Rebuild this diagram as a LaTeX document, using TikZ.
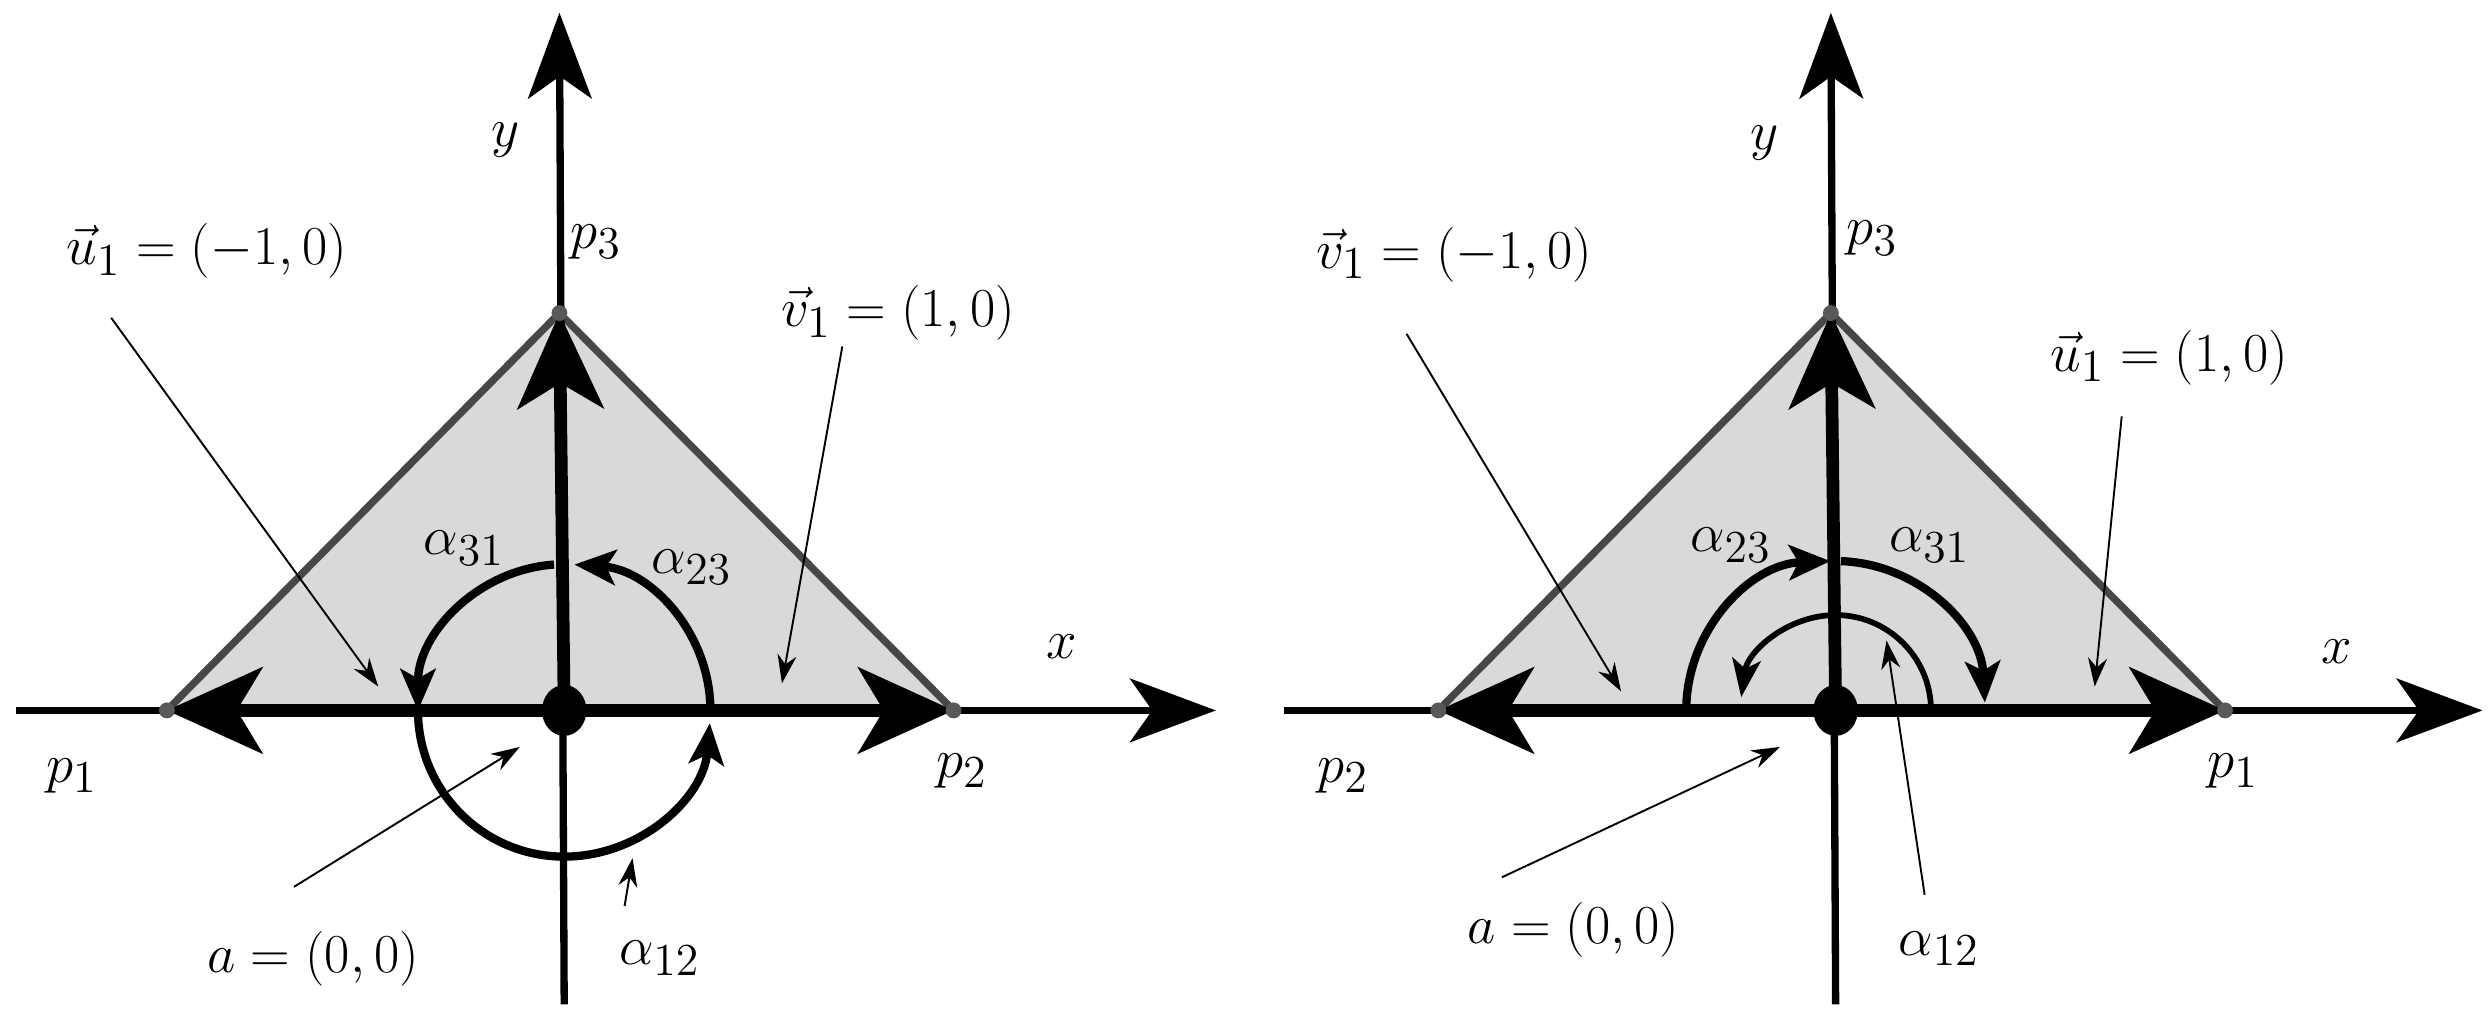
\documentclass[tikz,border=0pt]{standalone}
\usetikzlibrary{arrows.meta}
\begin{document}
\begin{tikzpicture}[x=0.5pt,y=0.5pt,font=\fontsize{19}{22}\selectfont,
  axisline/.style={line width=2.3pt,-{Stealth[length=27pt,width=20pt,inset=7pt]}},
  vecline/.style={line width=4pt,-{Stealth[length=30pt,width=27pt,inset=8pt]}},
  arcline/.style={line width=2.6pt,-{Stealth[length=13pt,width=11pt,inset=3pt]}},
  thinarc/.style={line width=1.8pt,-{Stealth[length=12pt,width=9pt,inset=3pt]}},
  ptr/.style={line width=0.6pt,-{Stealth[length=9pt,width=6pt]}},
  tri/.style={fill=black!15,draw=black!72,line width=2.3pt,line join=round},
  lbl/.style={inner sep=0pt}]
\useasboundingbox (0,0) rectangle (1568,644);
% ---------- left panel ----------
\begin{scope}[shift={(355,197)}]
  \coordinate (O) at (0,0);
  \coordinate (P1) at (-250,0); \coordinate (P2) at (245,0); \coordinate (P3) at (-3,250);
  \coordinate (XL) at (-345,0); \coordinate (XR) at (410,0);
  \coordinate (YB) at (0,-185); \coordinate (YT) at (-3,439);
  \filldraw[tri] (P1) -- (P2) -- (P3) -- cycle;
  \draw[axisline] (XL) -- (XR);
  \draw[axisline] (YB) -- (YT);
  \draw[vecline] (O) -- (P1);
  \draw[vecline] (O) -- (P2);
  \draw[vecline] (O) -- (P3);
  \foreach \p in {P1,P2,P3} \fill[black!65] (\p) circle (5);
  \draw[arcline] (O) ++(0:92) arc[start angle=0,end angle=86,radius=92];
  \draw[arcline] (O) ++(94:92) arc[start angle=94,end angle=180,radius=92];
  \draw[arcline] (O) ++(180:92) arc[start angle=180,end angle=355,radius=92];
  \fill (O) ellipse (14 and 16);
  \node[lbl] (ly) at (-37,359) {$y$};
  \node[lbl] (lx) at (313,40) {$x$};
  \node[lbl] (lp3) at (20,295) {$p_3$};
  \node[lbl] (lp1) at (-310,-41) {$p_1$};
  \node[lbl] (lp2) at (250,-38) {$p_2$};
  \node[lbl] (lu) at (-225,289) {$\vec{u}_1=(-1,0)$};
  \node[lbl] (lv) at (210,250) {$\vec{v}_1=(1,0)$};
  \node[lbl] (la) at (-158,-156) {$a=(0,0)$};
  \node[lbl] (l12) at (60,-156) {$\alpha_{12}$};
  \node[lbl] (l31) at (-63,102) {$\alpha_{31}$};
  \node[lbl] (l23) at (80,90) {$\alpha_{23}$};
  \coordinate (u0) at (-285,247); \coordinate (u1) at (-117,15);
  \coordinate (v0) at (175,229); \coordinate (v1) at (137,17);
  \coordinate (a0) at (-170,-111); \coordinate (a1) at (-28,-23);
  \coordinate (b0) at (38,-123); \coordinate (b1) at (43,-93);
  \draw[ptr] (u0) -- (u1);
  \draw[ptr] (v0) -- (v1);
  \draw[ptr] (a0) -- (a1);
  \draw[ptr] (b0) -- (b1);
\end{scope}
% ---------- right panel ----------
\begin{scope}[shift={(1155,197)}]
  \coordinate (Q) at (0,0);
  \coordinate (Q2) at (-250,0); \coordinate (Q1) at (245,0); \coordinate (Q3) at (-3,250);
  \coordinate (ZL) at (-347,0); \coordinate (ZR) at (407,0);
  \coordinate (WB) at (0,-185); \coordinate (WT) at (-3,439);
  \filldraw[tri] (Q2) -- (Q1) -- (Q3) -- cycle;
  \draw[axisline] (ZL) -- (ZR);
  \draw[axisline] (WB) -- (WT);
  \draw[vecline] (Q) -- (Q2);
  \draw[vecline] (Q) -- (Q1);
  \draw[vecline] (Q) -- (Q3);
  \foreach \p in {Q1,Q2,Q3} \fill[black!65] (\p) circle (5);
  \draw[arcline] (Q) ++(180:94) arc[start angle=180,end angle=92,radius=94];
  \draw[arcline] (Q) ++(88:94) arc[start angle=88,end angle=3,radius=94];
  \draw[thinarc] (Q) ++(3:60) arc[start angle=3,end angle=172,radius=60];
  \fill (Q) ellipse (14 and 16);
  \node[lbl] (ry) at (-45,357) {$y$};
  \node[lbl] (rx) at (315,37) {$x$};
  \node[lbl] (rp3) at (23,297) {$p_3$};
  \node[lbl] (rp2) at (-310,-41) {$p_2$};
  \node[lbl] (rp1) at (250,-38) {$p_1$};
  \node[lbl] (rv) at (-240,287) {$\vec{v}_1=(-1,0)$};
  \node[lbl] (ru) at (210,222) {$\vec{u}_1=(1,0)$};
  \node[lbl] (ra) at (-165,-138) {$a=(0,0)$};
  \node[lbl] (r12) at (65,-150) {$\alpha_{12}$};
  \node[lbl] (r23) at (-66,104) {$\alpha_{23}$};
  \node[lbl] (r31) at (59,104) {$\alpha_{31}$};
  \coordinate (rv0) at (-270,237); \coordinate (rv1) at (-135,12);
  \coordinate (ru0) at (180,185); \coordinate (ru1) at (163,15);
  \coordinate (ra0) at (-210,-105); \coordinate (ra1) at (-35,-23);
  \coordinate (rb0) at (56,-116); \coordinate (rb1) at (32,44);
  \draw[ptr] (rv0) -- (rv1);
  \draw[ptr] (ru0) -- (ru1);
  \draw[ptr] (ra0) -- (ra1);
  \draw[ptr] (rb0) -- (rb1);
\end{scope}
\end{tikzpicture}
\end{document}
